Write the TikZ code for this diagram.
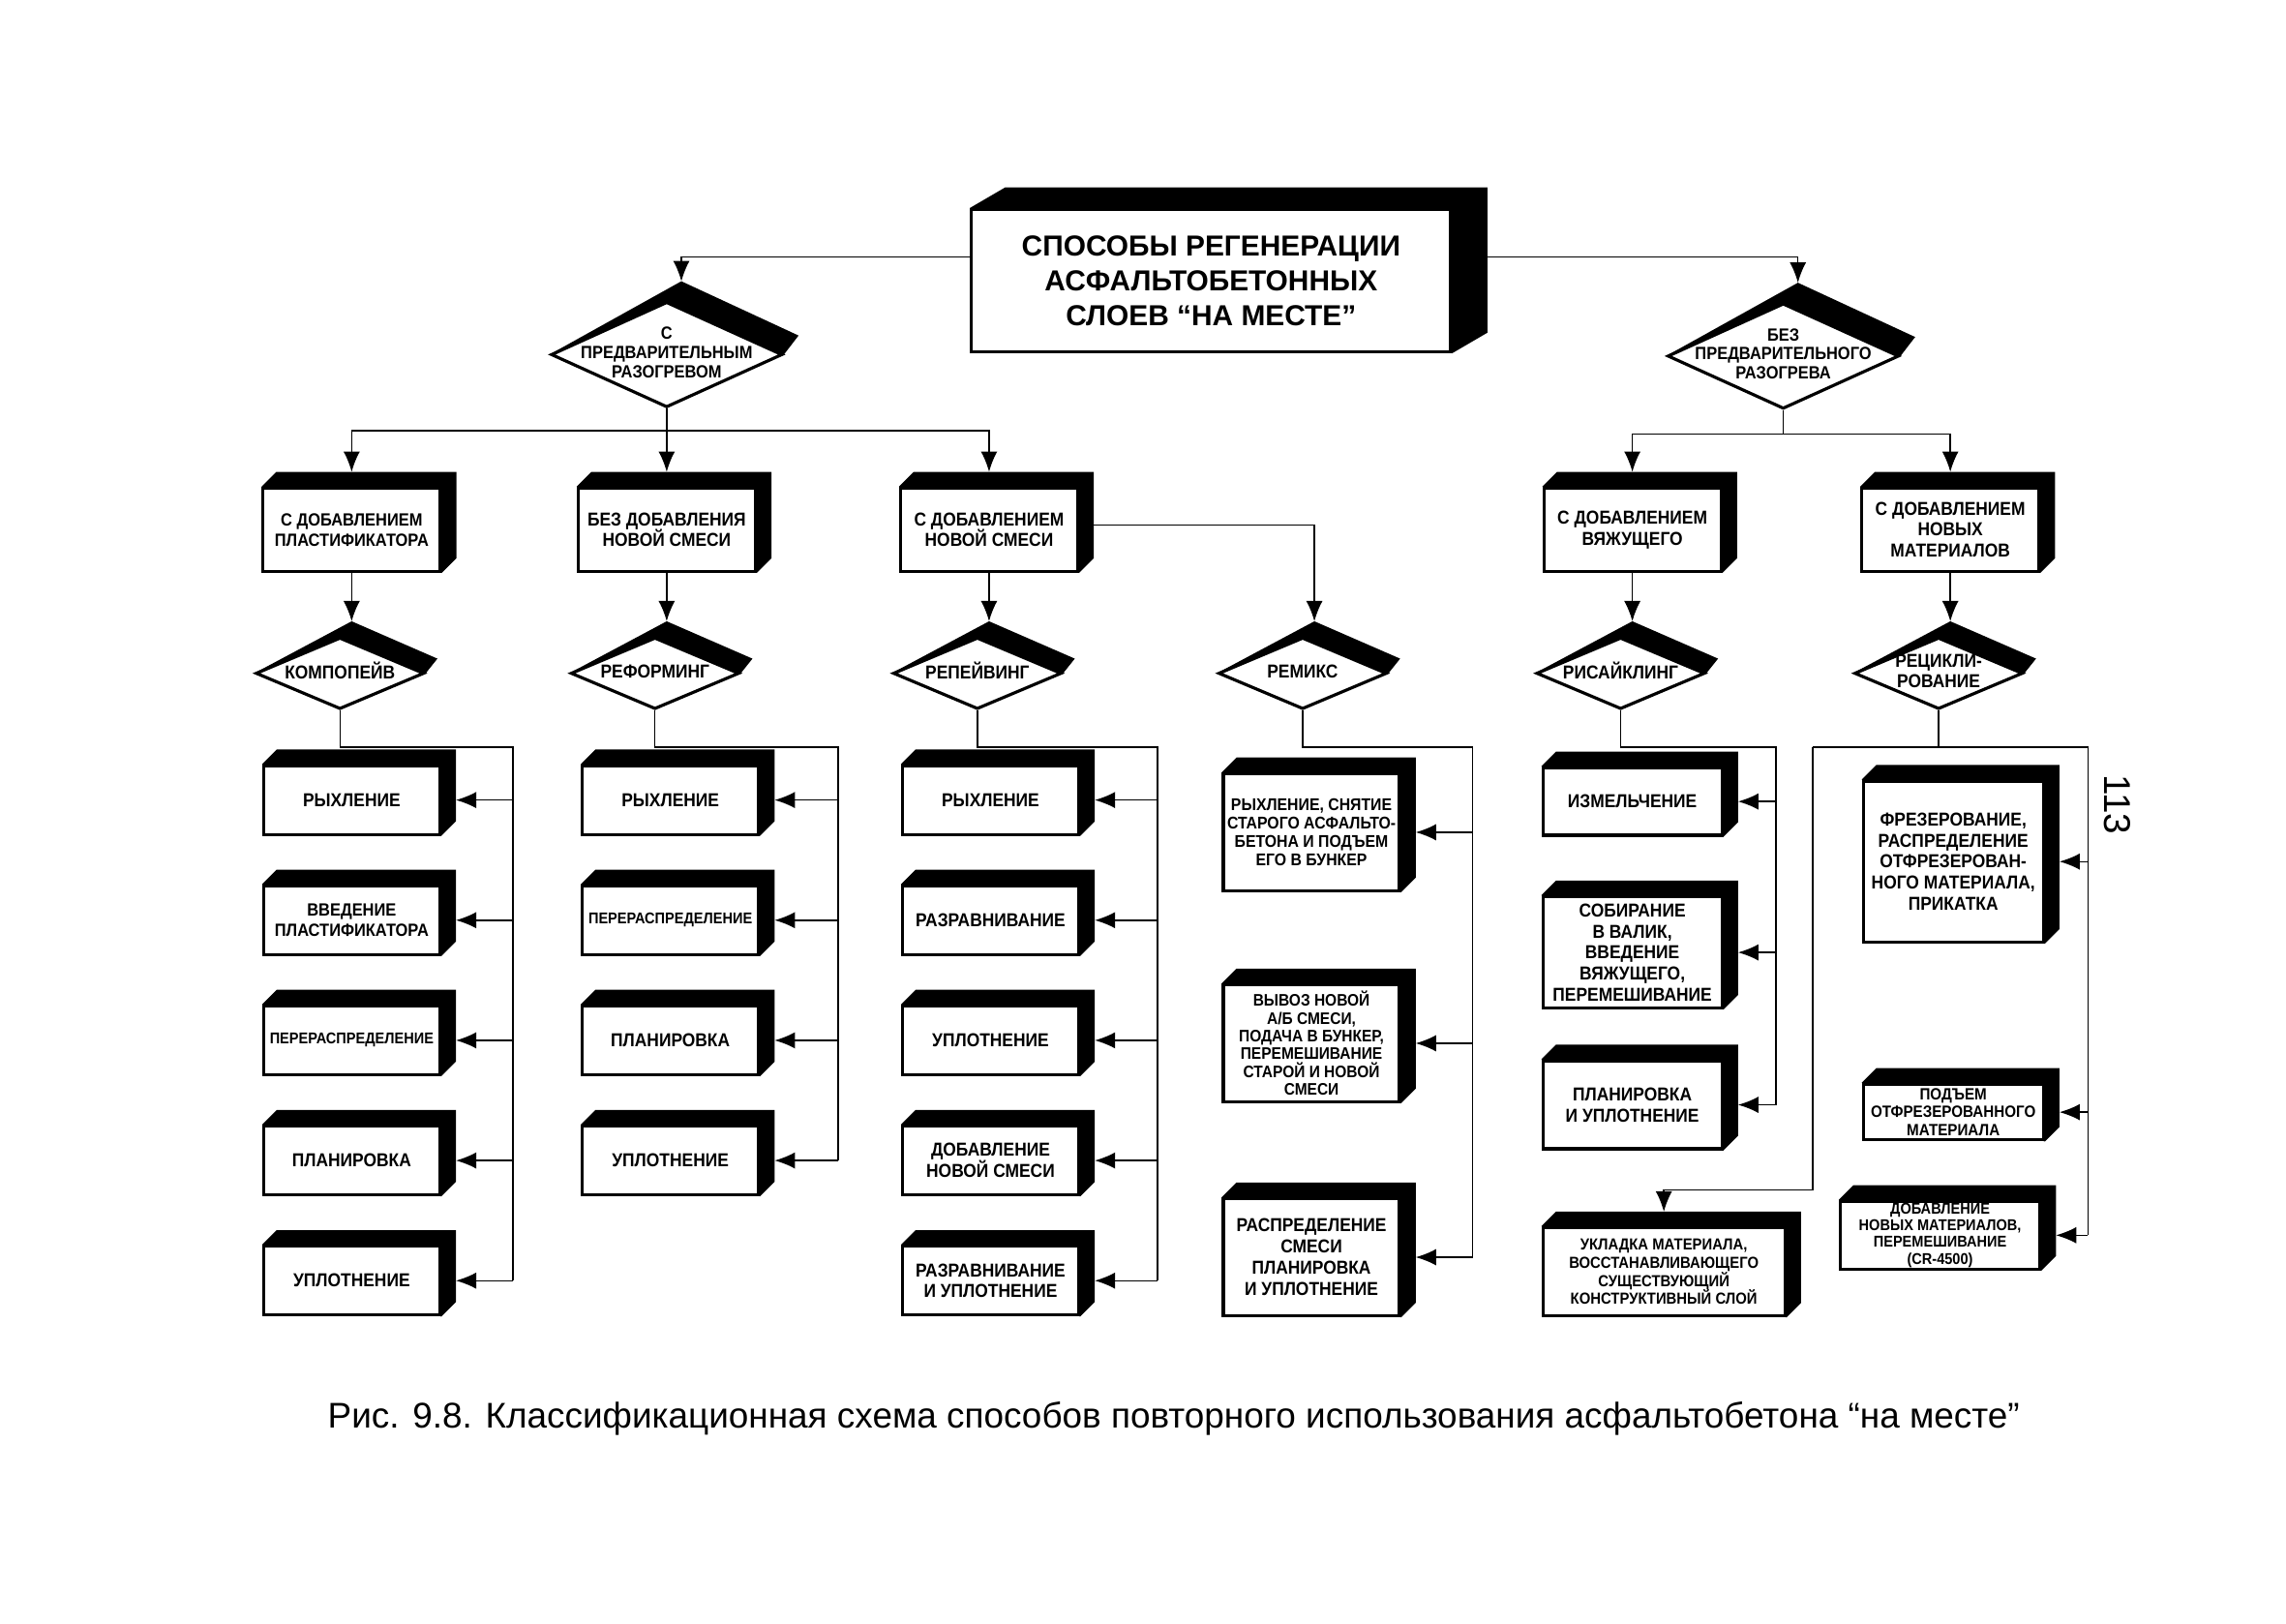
\documentclass[tikz,border=0pt]{standalone}
\usepackage{fontspec}
\setmainfont{Liberation Sans}
\newfontfamily\blokfont[FakeStretch=0.9]{Liberation Sans}
\usetikzlibrary{shapes.geometric,arrows.meta,calc,backgrounds}

\newcommand{\fb}{\blokfont\bfseries\fontsize{5.5}{6.2}\selectfont}
\newcommand{\fp}{\blokfont\bfseries\fontsize{5.2}{6}\selectfont}
\newcommand{\fm}{\blokfont\bfseries\fontsize{5}{5.4}\selectfont}
\newcommand{\fs}{\blokfont\bfseries\fontsize{4.6}{5.2}\selectfont}
\newcommand{\rtxt}[1]{\makebox[0pt]{\begin{tabular}{@{}c@{}}#1\end{tabular}}}

\begin{document}
\begin{tikzpicture}[x=0.1514mm,y=-0.1514mm,line width=0.9pt,>={Latex[length=2.1mm,width=1.7mm]}]
    \tikzstyle{every node}=[inner sep=0.5pt, align=center, font=\fb]
    \tikzstyle{blok}=[draw, fill=white, minimum width=18.2mm, minimum height=7.1mm]
    \tikzstyle{vid}=[blok, minimum width=18.3mm, minimum height=8.6mm]
    \tikzstyle{romb}=[diamond, draw, fill=white, inner sep=0pt, minimum width=17.4mm, minimum height=7.4mm]
    \tikzstyle{bolshoj romb}=[romb, minimum width=23.9mm, minimum height=10.9mm]
    \useasboundingbox (0,0) rectangle (1560.1,1108.3);

    % verhnij uroven
    \node[blok, minimum width=49.5mm, minimum height=14.7mm, font=\bfseries\fontsize{8.5}{10.3}\selectfont] (root) at (826.5,191.5) {СПОСОБЫ РЕГЕНЕРАЦИИ\\АСФАЛЬТОБЕТОННЫХ\\СЛОЕВ “НА МЕСТЕ”};
    \node[bolshoj romb, font=\blokfont\bfseries\fontsize{5.2}{5.6}\selectfont] (d1) at (455,242) {\rtxt{С\\ПРЕДВАРИТЕЛЬНЫМ\\РАЗОГРЕВОМ}};
    \node[bolshoj romb, font=\blokfont\bfseries\fontsize{5.2}{5.6}\selectfont] (d2) at (1217,243) {\rtxt{БЕЗ\\ПРЕДВАРИТЕЛЬНОГО\\РАЗОГРЕВА}};

    % vidy
    \node[vid, font=\fp] (b1) at (240,361.5) {С ДОБАВЛЕНИЕМ\\ПЛАСТИФИКАТОРА};
    \node[vid] (b2) at (455,361.5) {БЕЗ ДОБАВЛЕНИЯ\\НОВОЙ СМЕСИ};
    \node[vid] (b3) at (675,361.5) {С ДОБАВЛЕНИЕМ\\НОВОЙ СМЕСИ};
    \node[vid] (b4) at (1114,361.5) {С ДОБАВЛЕНИЕМ\\ВЯЖУЩЕГО};
    \node[vid] (b5) at (1331,361.5) {С ДОБАВЛЕНИЕМ\\НОВЫХ\\МАТЕРИАЛОВ};

    % metody
    \node[romb] (k1) at (232,459.5) {\rtxt{КОМПОПЕЙВ}};
    \node[romb] (k2) at (447,459.5) {\rtxt{РЕФОРМИНГ}};
    \node[romb] (k3) at (667,459.5) {\rtxt{РЕПЕЙВИНГ}};
    \node[romb] (k4) at (889,459.5) {\rtxt{РЕМИКС}};
    \node[romb] (k5) at (1106,459.5) {\rtxt{РИСАЙКЛИНГ}};
    \node[romb] (k6) at (1323,459.5) {\rtxt{РЕЦИКЛИ-\\РОВАНИЕ}};

    % operacii
    \node[blok] (p11) at (240,546) {РЫХЛЕНИЕ};
    \node[blok, font=\fp] (p12) at (240,628) {ВВЕДЕНИЕ\\ПЛАСТИФИКАТОРА};
    \node[blok, font=\fs] (p13) at (240,710) {ПЕРЕРАСПРЕДЕЛЕНИЕ};
    \node[blok] (p14) at (240,792) {ПЛАНИРОВКА};
    \node[blok] (p15) at (240,874) {УПЛОТНЕНИЕ};

    \node[blok] (p21) at (457.5,546) {РЫХЛЕНИЕ};
    \node[blok, font=\fs] (p22) at (457.5,628) {ПЕРЕРАСПРЕДЕЛЕНИЕ};
    \node[blok] (p23) at (457.5,710) {ПЛАНИРОВКА};
    \node[blok] (p24) at (457.5,792) {УПЛОТНЕНИЕ};

    \node[blok] (p31) at (676,546) {РЫХЛЕНИЕ};
    \node[blok] (p32) at (676,628) {РАЗРАВНИВАНИЕ};
    \node[blok] (p33) at (676,710) {УПЛОТНЕНИЕ};
    \node[blok] (p34) at (676,792) {ДОБАВЛЕНИЕ\\НОВОЙ СМЕСИ};
    \node[blok] (p35) at (676,874) {РАЗРАВНИВАНИЕ\\И УПЛОТНЕНИЕ};

    \node[blok, minimum height=12.1mm, font=\fm] (p41) at (895,568) {РЫХЛЕНИЕ, СНЯТИЕ\\СТАРОГО АСФАЛЬТО-\\БЕТОНА И ПОДЪЕМ\\ЕГО В БУНКЕР};
    \node[blok, minimum height=12.1mm, font=\blokfont\bfseries\fontsize{4.9}{5.2}\selectfont] (p42) at (895,712) {ВЫВОЗ НОВОЙ\\А/Б СМЕСИ,\\ПОДАЧА В БУНКЕР,\\ПЕРЕМЕШИВАНИЕ\\СТАРОЙ И НОВОЙ\\СМЕСИ};
    \node[blok, minimum height=12.1mm] (p43) at (895,858) {РАСПРЕДЕЛЕНИЕ\\СМЕСИ\\ПЛАНИРОВКА\\И УПЛОТНЕНИЕ};

    \node[blok, minimum width=18.5mm, minimum height=6.96mm] (p51) at (1114,547) {ИЗМЕЛЬЧЕНИЕ};
    \node[blok, minimum width=18.5mm, minimum height=11.5mm] (p52) at (1114,650) {СОБИРАНИЕ\\В ВАЛИК,\\ВВЕДЕНИЕ\\ВЯЖУЩЕГО,\\ПЕРЕМЕШИВАНИЕ};
    \node[blok, minimum width=18.5mm, minimum height=9.1mm] (p53) at (1114,754) {ПЛАНИРОВКА\\И УПЛОТНЕНИЕ};

    \node[blok, minimum width=18.6mm, minimum height=16.65mm] (p61) at (1333,588) {ФРЕЗЕРОВАНИЕ,\\РАСПРЕДЕЛЕНИЕ\\ОТФРЕЗЕРОВАН-\\НОГО МАТЕРИАЛА,\\ПРИКАТКА};
    \node[blok, minimum width=18.6mm, minimum height=5.75mm, font=\blokfont\bfseries\fontsize{4.8}{5.3}\selectfont] (p62) at (1333,759) {ПОДЪЕМ\\ОТФРЕЗЕРОВАННОГО\\МАТЕРИАЛА};
    \node[blok, minimum width=20.6mm, minimum height=7mm, font=\blokfont\bfseries\fontsize{4.6}{4.9}\selectfont] (p63) at (1324,843) {ДОБАВЛЕНИЕ\\НОВЫХ МАТЕРИАЛОВ,\\ПЕРЕМЕШИВАНИЕ\\(CR-4500)};
    \node[blok, minimum width=25mm, minimum height=9.1mm, font=\blokfont\bfseries\fontsize{4.7}{5.3}\selectfont] (p64) at (1135.5,868) {УКЛАДКА МАТЕРИАЛА,\\ВОССТАНАВЛИВАЮЩЕГО\\СУЩЕСТВУЮЩИЙ\\КОНСТРУКТИВНЫЙ СЛОЙ};

    % ob'em
    \begin{pgfonlayer}{background}
        \fill (root.north west) -- ++(24,-14) -- ($(root.north east)+(24,-14)$) -- ($(root.south east)+(24,-14)$) -- (root.south east) -- cycle;
        \foreach \n in {b1,b2,b3,b4,b5,p11,p12,p13,p14,p15,p21,p22,p23,p24,p31,p32,p33,p34,p35,p41,p42,p43,p51,p52,p53,p61,p62,p63,p64}
            \fill (\n.north west) -- ++(10,-10) -- ($(\n.north east)+(10,-10)$) -- ($(\n.south east)+(10,-10)$) -- (\n.south east) -- cycle;
        \foreach \n in {d1,d2}
            \fill (\n.west) -- ($(\n.north)+(10,-13)$) -- ($(\n.east)+(10,-13)$) -- (\n.east) -- cycle;
        \foreach \n in {k1,k2,k3,k4,k5,k6}
            \fill (\n.west) -- ($(\n.north)+(8,-10)$) -- ($(\n.east)+(8,-10)$) -- (\n.east) -- cycle;
    \end{pgfonlayer}

    % svyazi
    \draw[->] ($(root.west)+(0,-16)$) -| ($(d1.north)+(10,-13)$);
    \draw[->] ($(root.east)+(24,-16)$) -| ($(d2.north)+(10,-13)$);
    \draw (d1.south) -- ++(0,15) coordinate (r1);
    \foreach \n in {b1,b2,b3} \draw[->] (r1) -| ($(\n.north)+(0,-10)$);
    \draw (d2.south) -- ++(0,16) coordinate (r2);
    \foreach \n in {b4,b5} \draw[->] (r2) -| ($(\n.north)+(0,-10)$);
    \foreach \blk/\rmb in {b1/k1,b2/k2,b3/k3,b4/k5,b5/k6} \draw[->] (\blk.south) -- ($(\rmb.north)+(8,-10)$);
    \draw[->] ($(b3.east)+(10,-3)$) -| ($(k4.north)+(8,-10)$);

    \coordinate (s1) at (350,510);
    \coordinate (s2) at (572,510);
    \coordinate (s3) at (790,510);
    \coordinate (s4) at (1005,510);
    \coordinate (s5) at (1212,510);
    \coordinate (s6) at (1425,510);
    \coordinate (s6l) at (1237,510);
    \coordinate (z6) at (1237,812);
    \draw (k1.south) |- (s1) -- (s1 |- p15);
    \draw (k2.south) |- (s2) -- (s2 |- p24);
    \draw (k3.south) |- (s3) -- (s3 |- p35);
    \draw (k4.south) |- (s4) -- (s4 |- p43);
    \draw (k5.south) |- (s5) -- (s5 |- p53);
    \draw (k6.south) |- (s6) -- (s6 |- p63);
    \foreach \i in {1,...,5} \draw[->] (s1 |- p1\i) -- ($(p1\i.east)+(10,0)$);
    \foreach \i in {1,...,4} \draw[->] (s2 |- p2\i) -- ($(p2\i.east)+(10,0)$);
    \foreach \i in {1,...,5} \draw[->] (s3 |- p3\i) -- ($(p3\i.east)+(10,0)$);
    \foreach \i in {1,2,3} \draw[->] (s4 |- p4\i) -- ($(p4\i.east)+(10,0)$);
    \foreach \i in {1,2,3} \draw[->] (s5 |- p5\i) -- ($(p5\i.east)+(10,0)$);
    \foreach \i in {1,2,3} \draw[->] (s6 |- p6\i) -- ($(p6\i.east)+(10,0)$);
    \draw (k6.south |- s6) -- (s6l);
    \draw[->] (s6l) -- (z6) -| ($(p64.north)+(0,-10)$);

    % podpis
    \node[font=\fontsize{11}{13}\selectfont, rotate=-90] (str) at (1445,549) {113};
    \node[font=\fontsize{10.5}{12}\selectfont] (podpis) at (801,968) {Рис. 9.8. Классификационная схема способов повторного использования асфальтобетона “на месте”};
\end{tikzpicture}
\end{document}
